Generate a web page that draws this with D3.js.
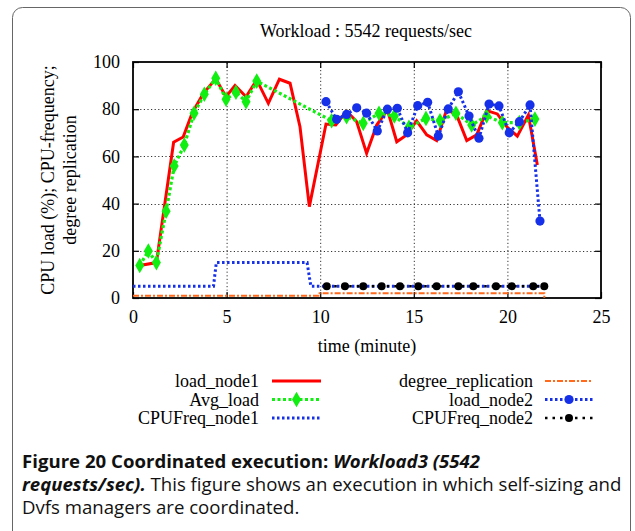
<!DOCTYPE html>
<html><head><meta charset="utf-8">
<script src="https://cdn.jsdelivr.net/npm/d3@7"></script>
<style>body{margin:0;background:#fff} svg{display:block}</style>
</head><body><svg id="c" width="635" height="531"></svg>
<script>
const chartTitle = "Workload : 5542 requests/sec";
const xLabel = "time (minute)";
const yLabelLines = ["CPU load (%); CPU-frequency;", "degree replication"];
const xTicks = [0, 5, 10, 15, 20, 25];
const yTicks = [0, 20, 40, 60, 80, 100];

const node1Time = [0.36,1.25,2.17,2.68,3.17,3.76,4.42,4.97,5.45,6.04,6.61,7.23,7.82,8.39,8.92,9.42,10.31,10.83,11.41,11.95,12.48,13.02,13.59,14.09,14.62,15.15,15.69,16.22,16.76,17.29,17.83,18.36,18.89,19.46,20.0,20.53,21.12,21.6];
const node1Load = [13.8,15.0,66.0,68.2,78.5,86.7,92.9,85.3,90.0,85.3,92.4,82.5,92.7,91.0,72.6,38.7,73.7,73.3,79.2,74.7,61.3,73.3,79.7,66.2,69.1,75.1,69.1,66.7,80.0,77.5,66.7,69.1,79.4,78.0,72.3,68.6,77.5,56.4];

const avgTime = [0.36,0.82,1.25,1.77,2.2,2.74,3.26,3.81,4.42,4.97,5.5,6.04,6.61,10.61,11.41,12.3,13.14,13.96,14.74,15.65,16.4,17.25,18.09,18.89,19.73,20.64,21.47];
const avgLoad = [13.8,19.9,15.0,36.8,55.9,64.8,78.3,86.3,93.1,84.2,87.2,83.2,91.9,75.1,76.8,74.0,78.3,77.1,72.3,76.1,75.1,78.3,73.3,77.1,74.3,74.3,75.8];

const freq1Time = [0, 4.3, 4.45, 9.3, 9.5, 21.97];
const freq1Value = [5, 5, 15, 15, 5, 5];

const replTime = [0, 9.9, 9.9, 21.97, 21.97];
const replValue = [1, 1, 2, 2, 0];

const node2Time = [10.31,10.88,11.41,11.95,12.48,13.05,13.59,14.12,14.67,15.21,15.74,16.31,16.84,17.38,17.95,18.48,19.02,19.55,20.1,20.64,21.21,21.74];
const node2Load = [83.2,75.7,77.8,80.6,78.3,70.8,80.0,80.4,70.0,81.5,82.9,68.6,80.1,87.4,77.1,67.7,82.2,81.4,70.0,74.7,81.8,32.6];

const freq2Time = [10.35,11.32,12.3,13.28,14.26,15.24,16.22,17.38,18.18,19.39,20.23,21.38,21.97];
const freq2Value = [5,5,5,5,5,5,5,5,5,5,5,5,5];

const legendLeft = ["load_node1", "Avg_load", "CPUFreq_node1"];
const legendRight = ["degree_replication", "load_node2", "CPUFreq_node2"];

const RED = "#ff0000", GREEN = "#11ee11", BLUE = "#1530e8", ORANGE = "#ff6a1c", BLACK = "#000";
const serif = "'Liberation Serif','Times New Roman',serif";

const svg = d3.select("#c");
svg.append("rect").attr("x", 12.5).attr("y", 7.5).attr("width", 618).attr("height", 560)
  .attr("rx", 10).attr("fill", "none").attr("stroke", "#666").attr("stroke-width", 1);

const x = d3.scaleLinear().domain([0, 25]).range([133, 601]);
const y = d3.scaleLinear().domain([0, 100]).range([298, 62]);

// grid
const grid = svg.append("g").attr("stroke", "#333").attr("stroke-width", 1).attr("stroke-dasharray", "1.2,2.4");
grid.selectAll(".gx").data(xTicks.slice(1, -1)).join("line")
  .attr("x1", d => x(d) + 0.5).attr("x2", d => x(d) + 0.5).attr("y1", y(0)).attr("y2", y(100));
grid.selectAll(".gy").data(yTicks.slice(1, -1)).join("line")
  .attr("y1", d => Math.round(y(d)) + 0.5).attr("y2", d => Math.round(y(d)) + 0.5).attr("x1", x(0)).attr("x2", x(25));

// axes
const axB = svg.append("g").attr("transform", `translate(0,${y(0)})`)
  .call(d3.axisBottom(x).tickValues(xTicks).tickSize(-6).tickPadding(12).tickFormat(d3.format("d")));
const axT = svg.append("g").attr("transform", `translate(0,${y(100)})`)
  .call(d3.axisTop(x).tickValues(xTicks).tickSize(-6).tickFormat(""));
const axL = svg.append("g").attr("transform", `translate(${x(0)},0)`)
  .call(d3.axisLeft(y).tickValues(yTicks).tickSize(-6).tickPadding(13).tickFormat(d3.format("d")));
const axR = svg.append("g").attr("transform", `translate(${x(25)},0)`)
  .call(d3.axisRight(y).tickValues(yTicks).tickSize(-6).tickFormat(""));
[axB, axT, axL, axR].forEach(a => {
  a.select(".domain").remove();
  a.selectAll("line").attr("stroke", "#000").attr("stroke-width", 1.2);
  a.selectAll("text").attr("font-family", serif).attr("font-size", 18).attr("fill", "#000");
});
svg.append("rect").attr("x", x(0)).attr("y", y(100)).attr("width", x(25) - x(0)).attr("height", y(0) - y(100))
  .attr("fill", "none").attr("stroke", "#000").attr("stroke-width", 1.8);

// labels
svg.append("text").attr("x", 366).attr("y", 37).attr("text-anchor", "middle")
  .attr("font-family", serif).attr("font-size", 18).text(chartTitle);
svg.append("text").attr("x", 367).attr("y", 352).attr("text-anchor", "middle")
  .attr("font-family", serif).attr("font-size", 18).text(xLabel);
[48, 70].forEach((cx, i) => {
  svg.append("text").attr("transform", `translate(${cx},180) rotate(-90)`).attr("dy", "0.35em")
    .attr("text-anchor", "middle").attr("font-family", serif).attr("font-size", 18).text(yLabelLines[i]);
});

const line = d3.line().x(d => x(d[0])).y(d => y(d[1]));
const zip = (a, b) => a.map((v, i) => [v, b[i]]);
const diamond = d3.symbol().type(d3.symbolDiamond).size(70);

// series
const plot = svg.append("g");
plot.append("path").datum(zip(node1Time, node1Load)).attr("d", line)
  .attr("fill", "none").attr("stroke", RED).attr("stroke-width", 3).attr("stroke-linejoin", "miter");

const avgData = zip(avgTime, avgLoad);
plot.append("path").datum(avgData).attr("d", line)
  .attr("fill", "none").attr("stroke", GREEN).attr("stroke-width", 3.2).attr("stroke-dasharray", "3,2.5");
plot.selectAll(".dm").data(avgData).join("path").attr("d", diamond)
  .attr("transform", d => `translate(${x(d[0])},${y(d[1])})`).attr("fill", GREEN);

plot.append("path").datum(zip(freq1Time, freq1Value)).attr("d", line)
  .attr("fill", "none").attr("stroke", BLUE).attr("stroke-width", 3).attr("stroke-dasharray", "2.5,2.5");

plot.append("path").datum(zip(replTime, replValue)).attr("d", line)
  .attr("fill", "none").attr("stroke", ORANGE).attr("stroke-width", 2).attr("stroke-dasharray", "6,2,2,2");

const n2Data = zip(node2Time, node2Load);
plot.append("path").datum(n2Data).attr("d", line)
  .attr("fill", "none").attr("stroke", BLUE).attr("stroke-width", 3).attr("stroke-dasharray", "2.5,2.5");
plot.selectAll(".cc").data(n2Data).join("circle")
  .attr("cx", d => x(d[0])).attr("cy", d => y(d[1])).attr("r", 4.6).attr("fill", BLUE);

const f2Data = zip(freq2Time, freq2Value);
plot.append("path").datum(f2Data).attr("d", line)
  .attr("fill", "none").attr("stroke", BLACK).attr("stroke-width", 2.5).attr("stroke-dasharray", "2.5,5");
plot.selectAll(".bk").data(f2Data).join("circle")
  .attr("cx", d => x(d[0])).attr("cy", d => y(d[1])).attr("r", 4).attr("fill", BLACK);

// legend
const rowY = [381, 399.5, 418];
const leg = svg.append("g").attr("font-family", serif).attr("font-size", 18);
function sample(x1, x2, yy, color, w, dash, marker) {
  leg.append("line").attr("x1", x1).attr("x2", x2).attr("y1", yy).attr("y2", yy)
    .attr("stroke", color).attr("stroke-width", w).attr("stroke-dasharray", dash);
  const mx = (x1 + x2) / 2;
  if (marker === "diamond") leg.append("path").attr("d", diamond).attr("transform", `translate(${mx},${yy})`).attr("fill", color);
  if (marker === "circle") leg.append("circle").attr("cx", mx).attr("cy", yy).attr("r", 4.6).attr("fill", color);
  if (marker === "black") leg.append("circle").attr("cx", mx).attr("cy", yy).attr("r", 4).attr("fill", color);
}
legendLeft.forEach((t, i) => leg.append("text").attr("x", 259).attr("y", rowY[i]).attr("dy", "0.35em").attr("text-anchor", "end").text(t));
legendRight.forEach((t, i) => leg.append("text").attr("x", 533).attr("y", rowY[i]).attr("dy", "0.35em").attr("text-anchor", "end").text(t));
sample(272, 321, rowY[0], RED, 3, null, null);
sample(272, 321, rowY[1], GREEN, 3.2, "3,2.5", "diamond");
sample(272, 321, rowY[2], BLUE, 3, "2.5,2.5", null);
sample(545, 593, rowY[0], ORANGE, 2, "6,2,2,2", null);
sample(545, 593, rowY[1], BLUE, 3, "2.5,2.5", "circle");
sample(545, 593, rowY[2], BLACK, 2.5, "2.5,5", "black");

// caption
const sans = "'Open Sans','Noto Sans',sans-serif";
const cap = svg.append("g").attr("font-family", sans).attr("font-size", 18).attr("fill", "#111");
const l1 = cap.append("text").attr("x", 0).attr("y", 468);
l1.append("tspan").attr("font-weight", "bold").text("Figure 20 Coordinated execution: ");
l1.append("tspan").attr("font-weight", "bold").attr("font-style", "italic").text("Workload3 (5542");
const l2 = cap.append("text").attr("x", 0).attr("y", 491);
l2.append("tspan").attr("font-weight", "bold").attr("font-style", "italic").text("requests/sec).");
l2.append("tspan").text(" This figure shows an execution in which self-sizing and");
cap.append("text").attr("x", 0).attr("y", 514).text("Dvfs managers are coordinated.");
const len2 = l2.node().getComputedTextLength();
const s = 600 / len2;
cap.attr("transform", `translate(22,0) scale(${s},1)`);
</script></body></html>
